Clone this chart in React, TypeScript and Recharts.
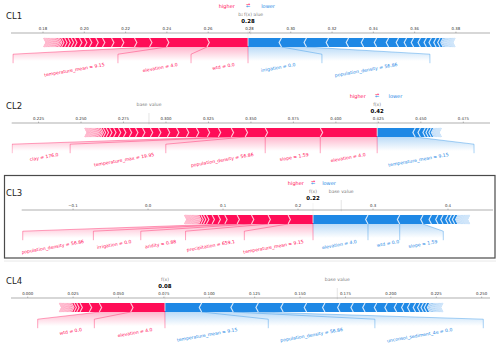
import React from 'react';
import { BarChart, Bar, XAxis, YAxis, ReferenceLine } from 'recharts';

const FONT = '"DejaVu Sans", "Liberation Sans", sans-serif';
const RED = '#ff0d57';
const RED_SEP = '#ffc3d5';
const BLUE = '#1e88e5';
const BLUE_SEP = '#d1e6fa';

// ---- CL1 ----
const cl1Ticks = [0.18, 0.2, 0.22, 0.24, 0.26, 0.28, 0.3, 0.32, 0.34, 0.36, 0.38];
const cl1Domain = [0.1645, 0.3965];
const cl1Out = 0.2793;
const cl1PosEffects = [0.0199, 0.0196, 0.0082, 0.0073, 0.0063, 0.0048, 0.0044, 0.0032, 0.0031, 0.0024, 0.0024, 0.0024, 0.0016, 0.0016, 0.0016, 0.0015, 0.001, 0.0007, 0.0007, 0.0006, 0.0006, 0.0005, 0.0005, 0.0005, 0.0004, 0.0004, 0.0004, 0.0004, 0.0003, 0.0003, 0.0003, 0.0003, 0.0002, 0.0002, 0.0002, 0.0001, 0.0001];
const cl1PosNames = ['wtd = 0.0', 'elevation = 4.0', 'temperature_mean = 9.15'];
const cl1PosLabelEnds = [0.2517, 0.2163, 0.1655];
const cl1NegEffects = [0.0162, 0.0121, 0.0107, 0.0097, 0.0073, 0.0063, 0.0058, 0.0048, 0.0039, 0.0034, 0.0033, 0.0029, 0.0024, 0.0023, 0.0019, 0.0015, 0.0006, 0.0006, 0.0005, 0.0005, 0.0005, 0.0004, 0.0004, 0.0004, 0.0004, 0.0003, 0.0003, 0.0003, 0.0002, 0.0002, 0.0001, 0.0001];
const cl1NegNames = ['irrigation = 0.0', 'population_density = 56.86'];
const cl1NegLabelEnds = [0.3151, 0.3674];

// ---- CL2 ----
const cl2Ticks = [0.225, 0.25, 0.275, 0.3, 0.325, 0.35, 0.375, 0.4, 0.425, 0.45, 0.475];
const cl2Domain = [0.2092, 0.4907];
const cl2Out = 0.4243;
const cl2PosEffects = [0.0335, 0.0324, 0.0118, 0.0082, 0.0076, 0.0065, 0.0064, 0.0059, 0.0058, 0.0054, 0.0052, 0.0048, 0.0046, 0.0041, 0.0037, 0.0034, 0.003, 0.0028, 0.0024, 0.002, 0.0017, 0.0013, 0.0009, 0.0009, 0.0008, 0.0007, 0.0007, 0.0006, 0.0006, 0.0005, 0.0005, 0.0005, 0.0004, 0.0004, 0.0004, 0.0003, 0.0003, 0.0003, 0.0002, 0.0002, 0.0002, 0.0001, 0.0001];
const cl2PosNames = ['elevation = 4.0', 'slope = 1.59', 'population_density = 56.86', 'temperature_max = 19.95', 'clay = 176.0'];
const cl2PosLabelEnds = [null, null, 0.2999, 0.2436, 0.2094];
const cl2NegEffects = [0.0224, 0.003, 0.0029, 0.0018, 0.0017, 0.0015, 0.0006, 0.0005, 0.0005, 0.0004, 0.0004, 0.0004, 0.0003, 0.0003, 0.0003, 0.0002, 0.0002, 0.0002, 0.0001, 0.0001];
const cl2NegNames = ['temperature_mean = 9.15'];
const cl2NegLabelEnds = [0.4813];

// ---- CL3 ----
const cl3Ticks = [-0.1, 0, 0.1, 0.2, 0.3, 0.4];
const cl3Domain = [-0.1685, 0.46];
const cl3Out = 0.22;
const cl3PosEffects = [0.0333, 0.0267, 0.0221, 0.0192, 0.0164, 0.0089, 0.008, 0.0075, 0.004, 0.0034, 0.003, 0.0016, 0.0015, 0.0014, 0.0013, 0.0012, 0.0011, 0.001, 0.001, 0.0009, 0.0009, 0.0008, 0.0008, 0.0007, 0.0007, 0.0006, 0.0006, 0.0005, 0.0005, 0.0004, 0.0004, 0.0003, 0.0003, 0.0002, 0.0002];
const cl3PosNames = ['temperature_mean = 9.15', 'precipitation = 659.1', 'aridity = 0.88', 'irrigation = 0.0', 'population_density = 56.86'];
const cl3PosLabelEnds = [0.1284, 0.05, -0.0097, -0.0729, -0.1671];
const cl3NegEffects = [0.0733, 0.0423, 0.0311, 0.0112, 0.0088, 0.0067, 0.0066, 0.0045, 0.0044, 0.0043, 0.0013, 0.0012, 0.0012, 0.0011, 0.0011, 0.001, 0.001, 0.0009, 0.0009, 0.0008, 0.0008, 0.0007, 0.0007, 0.0006, 0.0006, 0.0005, 0.0005, 0.0004, 0.0003, 0.0002];
const cl3NegNames = ['elevation = 4.0', 'wtd = 0.0', 'slope = 1.59'];
const cl3NegLabelEnds = [null, null, 0.3937];

// ---- CL4 ----
const cl4Ticks = [0, 0.025, 0.05, 0.075, 0.1, 0.125, 0.15, 0.175, 0.2, 0.225, 0.25];
const cl4Domain = [-0.0092, 0.2546];
const cl4Out = 0.0756;
const cl4PosEffects = [0.0189, 0.0173, 0.0055, 0.0051, 0.0018, 0.0015, 0.0013, 0.0007, 0.0007, 0.0006, 0.0006, 0.0005, 0.0005, 0.0005, 0.0004, 0.0004, 0.0004, 0.0003, 0.0003, 0.0003, 0.0002, 0.0002, 0.0001, 0.0001];
const cl4PosNames = ['elevation = 4.0', 'wtd = 0.0'];
const cl4PosLabelEnds = [0.0367, 0.0055];
const cl4NegEffects = [0.0202, 0.0174, 0.0138, 0.0137, 0.0129, 0.0101, 0.0083, 0.0073, 0.0065, 0.0064, 0.0058, 0.0052, 0.004, 0.0033, 0.0031, 0.0024, 0.0019, 0.0018, 0.0017, 0.0007, 0.0007, 0.0007, 0.0006, 0.0006, 0.0006, 0.0005, 0.0005, 0.0005, 0.0004, 0.0004, 0.0004, 0.0003, 0.0002, 0.0001, 0.0001];
const cl4NegNames = ['temperature_mean = 9.15', 'population_density = 56.86', 'unconsol_sediment_4e = 0.0'];
const cl4NegLabelEnds = [0.1325, 0.1912, 0.2509];

interface Panel {
    title: string;
    ticks: number[];
    decimals: number;
    domain: number[];
    out: number;
    pos: number[];
    posNames: string[];
    posEnds: (number | null)[];
    neg: number[];
    negNames: string[];
    negEnds: (number | null)[];
    barBottom: number; // px, bottom edge of the force bar
    axisLeft: number;
    axisRight: number;
    arrows: boolean;
}

const panels: Panel[] = [
    { title: 'CL1', ticks: cl1Ticks, decimals: 2, domain: cl1Domain, out: cl1Out, pos: cl1PosEffects, posNames: cl1PosNames, posEnds: cl1PosLabelEnds, neg: cl1NegEffects, negNames: cl1NegNames, negEnds: cl1NegLabelEnds, barBottom: 46, axisLeft: 11, axisRight: 490, arrows: true },
    { title: 'CL2', ticks: cl2Ticks, decimals: 3, domain: cl2Domain, out: cl2Out, pos: cl2PosEffects, posNames: cl2PosNames, posEnds: cl2PosLabelEnds, neg: cl2NegEffects, negNames: cl2NegNames, negEnds: cl2NegLabelEnds, barBottom: 136, axisLeft: 11.7, axisRight: 490, arrows: true },
    { title: 'CL3', ticks: cl3Ticks, decimals: 1, domain: cl3Domain, out: cl3Out, pos: cl3PosEffects, posNames: cl3PosNames, posEnds: cl3PosLabelEnds, neg: cl3NegEffects, negNames: cl3NegNames, negEnds: cl3NegLabelEnds, barBottom: 223, axisLeft: 21.7, axisRight: 493, arrows: true },
    { title: 'CL4', ticks: cl4Ticks, decimals: 3, domain: cl4Domain, out: cl4Out, pos: cl4PosEffects, posNames: cl4PosNames, posEnds: cl4PosLabelEnds, neg: cl4NegEffects, negNames: cl4NegNames, negEnds: cl4NegLabelEnds, barBottom: 311, axisLeft: 11, axisRight: 490, arrows: false },
];

// layout constants
const CHART_H = 90;
const AXIS_H = 16;
const MARGIN_TOP = 15;
const PLOT_H = 54;
const BAR_OFF = 13; // bar bottom below plot top
const LABEL_FS = 4.6;
const SMALL_FS = 4.6;
const SEP_W = 1.15;
const LABEL_TOP = 15.5;
const ASC = 3.5;
const SIN10 = Math.sin((10 * Math.PI) / 180);

// rough DejaVu Sans advance widths (em)
const CHAR_W: Record<string, number> = {
    a: 0.613, b: 0.635, c: 0.55, d: 0.635, e: 0.615, f: 0.352, g: 0.635, h: 0.634, i: 0.278, j: 0.278,
    k: 0.579, l: 0.278, m: 0.974, n: 0.634, o: 0.612, p: 0.635, q: 0.635, r: 0.411, s: 0.521, t: 0.392,
    u: 0.634, v: 0.592, w: 0.818, x: 0.592, y: 0.592, z: 0.525, _: 0.5, ' ': 0.318, '=': 0.838, '.': 0.318,
    '(': 0.39, ')': 0.39,
};
const textWidth = (s: string, fs: number) => [...s].reduce((w, c) => w + (CHAR_W[c] ?? 0.636), 0) * fs;

const ForcePanel: React.FC<{ p: Panel; uid: string }> = ({ p, uid }) => {
    const sumPos = p.pos.reduce((a, b) => a + b, 0);
    const sumNeg = p.neg.reduce((a, b) => a + b, 0);
    const lead = p.out - sumPos;
    const base = p.out - sumPos + sumNeg;
    const offsetText = 0.032 * (sumPos + sumNeg);
    const indent = (p.axisRight - p.axisLeft) / 200;

    const row: Record<string, number | string> = { row: 'bar', lead };
    p.pos.forEach((v, i) => { row[`p${i}`] = v; });
    p.neg.forEach((v, i) => { row[`n${i}`] = v; });
    const data = [row, { row: 'gap1' }, { row: 'gap2' }];

    // labels, connector lines and shading under one side of the bar
    const labelLayer = (side: 'pos' | 'neg', fxPx: number, k: number, B: number) => {
        const isPos = side === 'pos';
        const effects = isPos ? p.pos : p.neg;
        const names = isPos ? p.posNames : p.negNames;
        const ends = isPos ? p.posEnds : p.negEnds;
        const color = isPos ? RED : BLUE;
        const dir = isPos ? -1 : 1;
        const X = (v: number) => fxPx + (v - p.out) * k;
        const offPx = offsetText * k;
        const lineProps = { stroke: color, strokeWidth: 0.7, strokeOpacity: 0.55, fill: 'none' };
        const items: React.ReactNode[] = [];
        let startPx = fxPx;
        let boxPx = fxPx;
        let prePx = fxPx;
        let cum = 0;
        if (isPos) items.push(<line key="init" x1={fxPx} x2={fxPx} y1={B} y2={B + 16.2} {...lineProps} />);
        names.forEach((name, i) => {
            cum += effects[i];
            const valPx = X(p.out + dir * cum);
            const w = textWidth(name, LABEL_FS);
            const ax = startPx + dir * offPx;
            const yb = isPos ? B + LABEL_TOP + ASC : B + LABEL_TOP + ASC + w * SIN10;
            items.push(
                <text key={`t${i}`} x={ax} y={yb} fontSize={LABEL_FS} fill={color} fontFamily={FONT}
                    textAnchor={isPos ? 'end' : 'start'} transform={`rotate(-10 ${ax} ${yb})`}>
                    {name}
                </text>
            );
            const e = ends[i];
            if (e === null || e === undefined) {
                items.push(<line key={`l${i}`} x1={valPx} x2={valPx} y1={B} y2={B + 16.2} {...lineProps} />);
                startPx = valPx;
                boxPx = valPx;
            } else {
                const ePx = X(e);
                items.push(<polyline key={`l${i}`} points={`${valPx},${B} ${ePx},${B + 7.2} ${ePx},${B + 16.2}`} {...lineProps} />);
                startPx = ePx;
                boxPx = ePx;
            }
            prePx = valPx;
        });
        const gid = `${uid}-${side}-shade`;
        return (
            <g>
                <defs>
                    <linearGradient id={gid} gradientUnits="userSpaceOnUse" x1={0} y1={B} x2={0} y2={B + 14}>
                        <stop offset="0" stopColor={color} stopOpacity={0.3} />
                        <stop offset="1" stopColor={color} stopOpacity={0} />
                    </linearGradient>
                </defs>
                <polygon points={`${fxPx},${B} ${prePx},${B} ${boxPx},${B + 7.2} ${boxPx},${B + 18} ${fxPx},${B + 18}`} fill={`url(#${gid})`} />
                {items}
            </g>
        );
    };

    const posShape = (i: number) => (props: any) => {
        const { x, y, width, height, payload } = props;
        if (!payload || payload.row !== 'bar' || !(width > 0)) return <g />;
        const l = x, r = x + width, t = y, b = y + height, m = y + height / 2;
        const pts = i === 0
            ? [[l, t], [r, t], [r, b], [l, b], [l + indent, m]]
            : [[l, t], [r, t], [r + 0.9 * indent, m], [r, b], [l, b], [l + 0.9 * indent, m]];
        return (
            <g>
                <polygon points={pts.map((q) => q.join(',')).join(' ')} fill={RED} />
                <polyline points={`${l},${t} ${l + indent},${m} ${l},${b}`} fill="none" stroke={RED_SEP} strokeWidth={SEP_W} />
                {i === 0 && labelLayer('pos', r, width / p.pos[0], b)}
            </g>
        );
    };

    const negShape = (i: number) => (props: any) => {
        const { x, y, width, height, payload } = props;
        if (!payload || payload.row !== 'bar' || !(width > 0)) return <g />;
        const l = x, r = x + width, t = y, b = y + height, m = y + height / 2;
        const pts = i === 0
            ? [[r, t], [l, t], [l, b], [r, b], [r - indent, m]]
            : [[l, t], [r, t], [r - 0.9 * indent, m], [r, b], [l, b], [l - 0.9 * indent, m]];
        const last = i === p.neg.length - 1;
        return (
            <g>
                <polygon points={pts.map((q) => q.join(',')).join(' ')} fill={BLUE} />
                {i > 0 && <polyline points={`${l},${t} ${l - indent},${m} ${l},${b}`} fill="none" stroke={BLUE_SEP} strokeWidth={SEP_W} />}
                {last && <polyline points={`${r},${t} ${r - indent},${m} ${r},${b}`} fill="none" stroke={BLUE_SEP} strokeWidth={SEP_W} />}
                {i === 0 && labelLayer('neg', l, width / p.neg[0], b)}
            </g>
        );
    };

    const boxedText = (txt: string, x: number, yb: number, fs: number, color: string, bold = false) => {
        const w = textWidth(txt, fs) * (bold ? 1.1 : 1);
        const pad = 0.3 * fs;
        return (
            <g>
                <rect x={x - w / 2 - pad} y={yb - 0.8 * fs - pad} width={w + 2 * pad} height={fs + 2 * pad} fill="#fff" />
                <text x={x} y={yb} fontSize={fs} fill={color} textAnchor="middle" fontFamily={FONT} fontWeight={bold ? 'bold' : 'normal'}>{txt}</text>
            </g>
        );
    };

    const baseShape = (props: any) => {
        const xp = props.x1;
        const B = Math.min(props.y1, props.y2) + BAR_OFF;
        return (
            <g>
                <line x1={xp} x2={xp} y1={B - 11.7} y2={B - 23} stroke="#e2e2e2" strokeWidth={0.9} />
                {boxedText('base value', xp, B - 30.5, SMALL_FS, '#808080')}
            </g>
        );
    };

    const outShape = (props: any) => {
        const xp = props.x1;
        const B = Math.min(props.y1, props.y2) + BAR_OFF;
        return (
            <g>
                <line x1={xp} x2={xp} y1={B} y2={B - 21.6} stroke="#f2f2f2" strokeWidth={0.8} />
                {boxedText('f(x)', xp, B - 30.5, SMALL_FS, '#808080')}
                {boxedText(p.out.toFixed(2), xp, B - 22.7, 5.4, '#000', true)}
                {p.arrows && (
                    <g fontFamily={FONT} fontSize={5} textAnchor="middle">
                        <text x={xp} y={B - 40.2} fill={RED}>→</text>
                        <text x={xp} y={B - 38} fill={BLUE}>←</text>
                    </g>
                )}
            </g>
        );
    };

    const higherShape = (props: any) => {
        const B = Math.min(props.y1, props.y2) + BAR_OFF;
        return <text x={props.x1} y={B - 38.3} fontSize={5} fill={RED} textAnchor="end" fontFamily={FONT}>higher</text>;
    };
    const lowerShape = (props: any) => {
        const B = Math.min(props.y1, props.y2) + BAR_OFF;
        return <text x={props.x1} y={B - 38.3} fontSize={5} fill={BLUE} textAnchor="start" fontFamily={FONT}>lower</text>;
    };

    const posOrder = p.pos.map((_, i) => p.pos.length - 1 - i);

    return (
        <div style={{ position: 'absolute', left: 0, top: p.barBottom - MARGIN_TOP - AXIS_H - BAR_OFF }}>
            <BarChart
                width={500}
                height={CHART_H}
                data={data}
                layout="vertical"
                barSize={9}
                margin={{ top: MARGIN_TOP, right: 500 - p.axisRight, bottom: CHART_H - MARGIN_TOP - AXIS_H - PLOT_H, left: p.axisLeft }}
            >
                <XAxis
                    type="number"
                    orientation="top"
                    domain={p.domain}
                    allowDataOverflow
                    ticks={p.ticks}
                    interval={0}
                    height={AXIS_H}
                    tickFormatter={(v: number) => v.toFixed(p.decimals).replace('-', '\u2212')}
                    tick={{ fontSize: 3.9, fill: '#333', fontFamily: FONT }}
                    tickSize={1.4}
                    tickMargin={2}
                    axisLine={{ stroke: '#7a7a7a', strokeWidth: 0.6 }}
                    tickLine={{ stroke: '#7a7a7a', strokeWidth: 0.5 }}
                />
                <YAxis type="category" dataKey="row" hide />
                <Bar dataKey="lead" stackId="f" isAnimationActive={false} shape={() => <g />} />
                {posOrder.map((i) => (
                    <Bar key={`p${i}`} dataKey={`p${i}`} stackId="f" fill={RED} isAnimationActive={false} shape={posShape(i)} />
                ))}
                {p.neg.map((_, i) => (
                    <Bar key={`n${i}`} dataKey={`n${i}`} stackId="f" fill={BLUE} isAnimationActive={false} shape={negShape(i)} />
                ))}
                <ReferenceLine x={base} shape={baseShape} />
                <ReferenceLine x={p.out} shape={outShape} />
                {p.arrows && <ReferenceLine x={p.out - offsetText} shape={higherShape} />}
                {p.arrows && <ReferenceLine x={p.out + offsetText} shape={lowerShape} />}
            </BarChart>
        </div>
    );
};

export default function App() {
    return (
        <div style={{ position: 'absolute', left: 0, top: 0, width: 500, height: 345, overflow: 'hidden', background: '#fff' }}>
            {panels.map((p, i) => (
                <ForcePanel key={p.title} p={p} uid={`fp${i}`} />
            ))}
            <svg width={500} height={345} style={{ position: 'absolute', left: 0, top: 0, pointerEvents: 'none' }}>
                {panels.map((p) => (
                    <text key={p.title} x={6} y={p.barBottom - 27} fontSize={8.5} fill="#222" fontFamily={FONT}>{p.title}</text>
                ))}
                <rect x={4.5} y={175.5} width={490.5} height={82.5} fill="none" stroke="#4a4a4a" strokeWidth={1.2} />
                <line x1={4} x2={496} y1={261} y2={261} stroke="#e8e8e8" strokeWidth={1} />
            </svg>
        </div>
    );
}
